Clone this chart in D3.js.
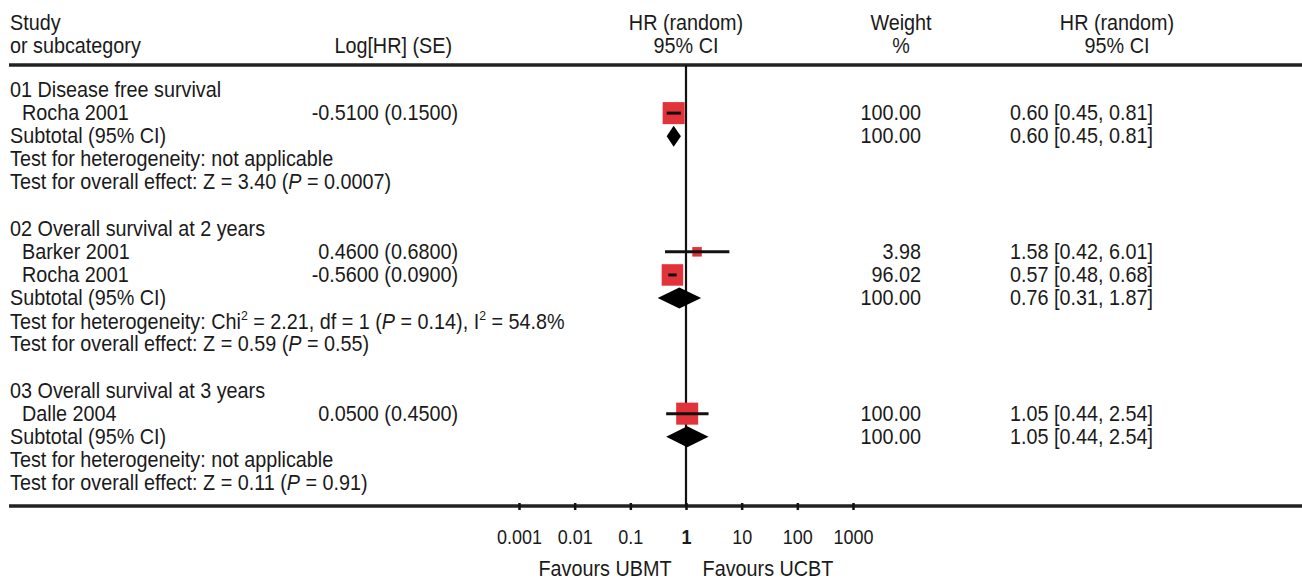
<!DOCTYPE html>
<html>
<head>
<meta charset="utf-8">
<script src="https://cdn.jsdelivr.net/npm/d3@7/dist/d3.min.js"></script>
<style>
  html, body { margin: 0; padding: 0; background: #fff; }
  svg { display: block; }
</style>
</head>
<body>
<svg id="chart" width="1302" height="581"></svg>
<script>
// ---------------- DATA ----------------
const headerLeft = ["Study", "or subcategory"];
const headerLog = "Log[HR] (SE)";
const headerPlot = ["HR (random)", "95% CI"];
const headerWeight = ["Weight", "%"];
const headerCI = ["HR (random)", "95% CI"];

const groupLabels = ["01 Disease free survival", "02 Overall survival at 2 years", "03 Overall survival at 3 years"];

const studyNames  = ["Rocha 2001", "Barker 2001", "Rocha 2001", "Dalle 2004"];
const studyGroup  = [0, 1, 1, 2];
const studyLogHR  = ["-0.5100", "0.4600", "-0.5600", "0.0500"];
const studySE     = ["0.1500", "0.6800", "0.0900", "0.4500"];
const studyWeight = [100.00, 3.98, 96.02, 100.00];
const studyHR     = [0.60, 1.58, 0.57, 1.05];
const studyLo     = [0.45, 0.42, 0.48, 0.44];
const studyHi     = [0.81, 6.01, 0.68, 2.54];

const subtotalWeight = [100.00, 100.00, 100.00];
const subtotalHR     = [0.60, 0.76, 1.05];
const subtotalLo     = [0.45, 0.31, 0.44];
const subtotalHi     = [0.81, 1.87, 2.54];

// text pieces: [text, style] where style: "" normal, "i" italic, "sup" superscript
const heterogeneity = [
  [["Test for heterogeneity: not applicable", ""]],
  [["Test for heterogeneity: Chi", ""], ["2", "sup"], [" = 2.21, df = 1 (", ""], ["P", "i"], [" = 0.14), I", ""], ["2", "sup"], [" = 54.8%", ""]],
  [["Test for heterogeneity: not applicable", ""]]
];
const overallEffect = [
  [["Test for overall effect: Z = 3.40 (", ""], ["P", "i"], [" = 0.0007)", ""]],
  [["Test for overall effect: Z = 0.59 (", ""], ["P", "i"], [" = 0.55)", ""]],
  [["Test for overall effect: Z = 0.11 (", ""], ["P", "i"], [" = 0.91)", ""]]
];

const tickValues = [0.001, 0.01, 0.1, 1, 10, 100, 1000];
const tickLabels = ["0.001", "0.01", "0.1", "1", "10", "100", "1000"];
const favourLabels = ["Favours UBMT", "Favours UCBT"];

// ---------------- FONT ----------------
const FONT = "'Liberation Sans', Arial, Helvetica, sans-serif";
const FS = 22;          // font size
const SX = 0.9;         // horizontal condensing (reference uses a narrow Helvetica)

// ---------------- LAYOUT ----------------
const W = 1302, H = 581;
const svg = d3.select("#chart").attr("font-family", FONT).attr("font-size", FS).attr("fill", "#1a1a1a");

function label(g, x, y, anchor) {
  return g.append("text")
    .attr("transform", `translate(${x},${y}) scale(${SX},1)`)
    .attr("text-anchor", anchor || "start");
}

// build rows
const rows = [];
let slot = 0;
groupLabels.forEach((g, gi) => {
  rows.push({type: "group", slot: slot++, gi});
  studyNames.forEach((n, si) => { if (studyGroup[si] === gi) rows.push({type: "study", slot: slot++, si}); });
  rows.push({type: "subtotal", slot: slot++, gi});
  rows.push({type: "het", slot: slot++, gi});
  rows.push({type: "overall", slot: slot++, gi});
  slot++; // blank line
});

const y = d3.scaleLinear().domain([0, 17]).range([97, 490]);   // text baselines
const markOff = -7;                                            // mark centre relative to baseline
const x = d3.scaleLog().domain([0.001, 1000]).range([519, 853]);
const boxSize = d3.scaleLinear().domain([0, 100]).range([9, 22]);

const colStudy = 10, colIndent = 22, colLogEnd = 458, colWeightEnd = 921, colCI = 1010, colCIHead = 1117, colWeightHead = 901;
const topLine = 65, axisY = 506;
const red = "#e2323a";

// header
const hdr = svg.append("g");
[30, 53].forEach((by, i) => {
  label(hdr, colStudy, by).text(headerLeft[i]);
  label(hdr, x(1), by, "middle").text(headerPlot[i]);
  label(hdr, colWeightHead, by, "middle").text(headerWeight[i]);
  label(hdr, colCIHead, by, "middle").text(headerCI[i]);
});
label(hdr, 452, 53, "end").text(headerLog);

// header rule and axis rule
svg.append("line").attr("x1", 9).attr("x2", W).attr("y1", topLine).attr("y2", topLine)
  .attr("stroke", "#222").attr("stroke-width", 3.5);
svg.append("line").attr("x1", 9).attr("x2", W).attr("y1", axisY).attr("y2", axisY)
  .attr("stroke", "#222").attr("stroke-width", 3.5);

// vertical line at HR = 1
svg.append("line").attr("x1", x(1)).attr("x2", x(1)).attr("y1", topLine).attr("y2", axisY)
  .attr("stroke", "#111").attr("stroke-width", 2.2);

function rich(sel, pieces) {
  let lastSup = false;
  pieces.forEach(([t, s]) => {
    const ts = sel.append("tspan").text(t);
    if (s === "i") ts.attr("font-style", "italic");
    if (s === "sup") ts.attr("font-size", FS * 0.62).attr("dy", -FS * 0.42);
    else if (lastSup) ts.attr("dy", FS * 0.42);
    lastSup = (s === "sup");
  });
}

const body = svg.append("g");
rows.forEach(r => {
  const by = y(r.slot);
  const cy = by + markOff;
  if (r.type === "group") {
    label(body, colStudy, by).text(groupLabels[r.gi]);
  } else if (r.type === "study") {
    const i = r.si;
    label(body, colIndent, by).text(studyNames[i]);
    label(body, colLogEnd, by, "end").text(studyLogHR[i] + " (" + studySE[i] + ")");
    label(body, colWeightEnd, by, "end").text(studyWeight[i].toFixed(2));
    label(body, colCI, by)
      .text(studyHR[i].toFixed(2) + " [" + studyLo[i].toFixed(2) + ", " + studyHi[i].toFixed(2) + "]");
    const s = boxSize(studyWeight[i]);
    body.append("rect").attr("x", x(studyHR[i]) - s / 2).attr("y", cy - s / 2)
      .attr("width", s).attr("height", s).attr("fill", red);
    body.append("line").attr("x1", x(studyLo[i])).attr("x2", x(studyHi[i]))
      .attr("y1", cy).attr("y2", cy).attr("stroke", "#111").attr("stroke-width", 3);
  } else if (r.type === "subtotal") {
    const i = r.gi;
    label(body, colStudy, by).text("Subtotal (95% CI)");
    label(body, colWeightEnd, by, "end").text(subtotalWeight[i].toFixed(2));
    label(body, colCI, by)
      .text(subtotalHR[i].toFixed(2) + " [" + subtotalLo[i].toFixed(2) + ", " + subtotalHi[i].toFixed(2) + "]");
    const hh = 10.5;
    const pts = [[x(subtotalLo[i]), cy], [x(subtotalHR[i]), cy - hh], [x(subtotalHi[i]), cy], [x(subtotalHR[i]), cy + hh]];
    body.append("path").attr("d", d3.line()(pts) + "Z").attr("fill", "#000");
  } else if (r.type === "het") {
    rich(label(body, colStudy, by + (r.gi === 1 ? 1 : 0)), heterogeneity[r.gi]);
  } else if (r.type === "overall") {
    rich(label(body, colStudy, by), overallEffect[r.gi]);
  }
});

// axis
const axis = d3.axisBottom(x).tickValues(tickValues)
  .tickFormat((d, i) => tickLabels[i]).tickSize(7).tickPadding(20);
const ag = svg.append("g").attr("transform", `translate(0,${axisY - 3})`).call(axis);
ag.select(".domain").remove();
ag.selectAll(".tick line").attr("stroke", "#111").attr("stroke-width", 2.5);
ag.selectAll(".tick text").attr("font-family", FONT).attr("font-size", 20).attr("fill", "#1a1a1a")
  .attr("transform", `scale(${SX},1)`)
  .attr("font-weight", (d) => d === 1 ? "bold" : "normal");

// favours labels
label(svg, 605, 576, "middle").text(favourLabels[0]);
label(svg, 768, 576, "middle").text(favourLabels[1]);
</script>
</body>
</html>
